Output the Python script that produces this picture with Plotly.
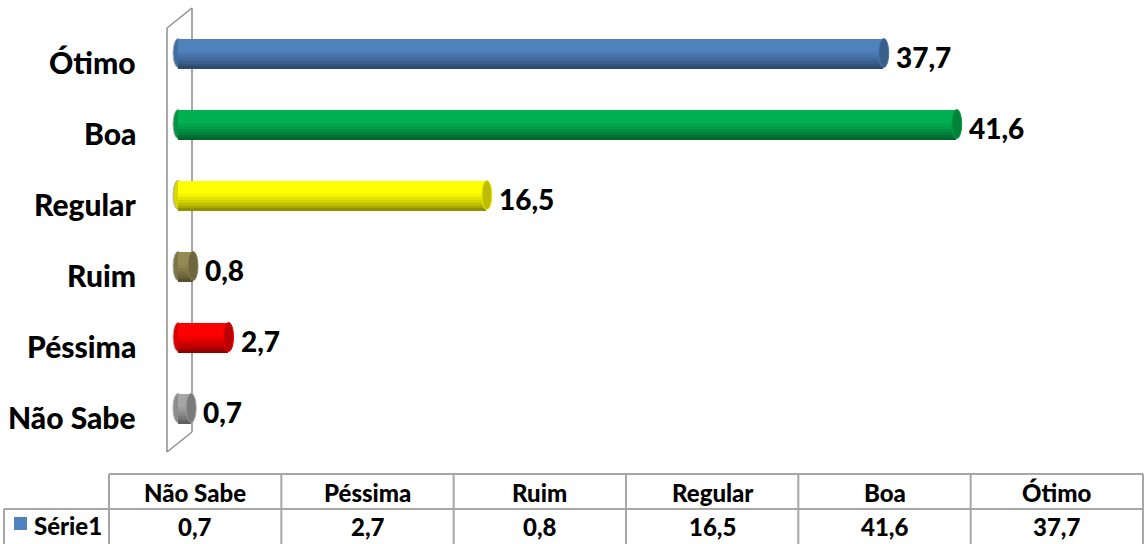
import plotly.graph_objects as go

# ---------------- data ----------------
categories = ["Não Sabe", "Péssima", "Ruim", "Regular", "Boa", "Ótimo"]
values = [0.7, 2.7, 0.8, 16.5, 41.6, 37.7]
bar_colors = ["#A6A6A6", "#FF0000", "#948A54", "#FFFF00", "#00B050", "#4F81BD"]
series_name = "Série1"
series_color = "#4F81BD"

W, H = 1145, 544
FONT = "Lato"
WEIGHT = 900
GRID = "#A6A6A6"


def px_x(p):
    return p / W


def px_y(p):
    return 1 - p / H


def shade(hexc, f):
    h = hexc.lstrip("#")
    r, g, b = int(h[0:2], 16), int(h[2:4], 16), int(h[4:6], 16)
    return "#%02X%02X%02X" % (int(r * f), int(g * f), int(b * f))


def fmt(v):
    return ("%.1f" % v).replace(".", ",")


# axis geometry (pixels)
X0_PX = 178.0          # pixel of value 0
PX_PER_UNIT = 18.72
X_LEFT = -0.35
X_RIGHT = (1143 - X0_PX) / PX_PER_UNIT
dom_x0 = (X0_PX + X_LEFT * PX_PER_UNIT) / W
dom_x1 = 1143 / W

Y_TOP_PX, Y_BOT_PX = 17.5, 443.5
BW = 0.41  # bar thickness in category units
ypos = list(range(len(categories)))

fig = go.Figure()

# cylinder body built from overlaid bands (smooth darkening towards the bottom)
bands = [
    (1.00, 1.00),
    (0.56, 0.95),
    (0.44, 0.89),
    (0.33, 0.82),
    (0.23, 0.74),
    (0.14, 0.66),
    (0.06, 0.58),
]
for frac, f in bands:
    cols = [shade(c, f) if f < 1 else c for c in bar_colors]
    fig.add_trace(go.Bar(
        y=ypos, x=values, orientation="h", base=0,
        offset=-BW / 2, width=BW * frac,
        marker=dict(color=cols, line=dict(width=0)),
        showlegend=False, hoverinfo="skip",
    ))

shapes = []
rx = 5.0 / PX_PER_UNIT
for i, (v, c) in enumerate(zip(values, bar_colors)):
    # left rounded end
    shapes.append(dict(type="circle", xref="x", yref="y", layer="below",
                       x0=-rx, x1=rx, y0=i - BW / 2, y1=i + BW / 2,
                       fillcolor=shade(c, 0.85), line=dict(width=1, color="#B0B0B0")))
    # right end cap
    shapes.append(dict(type="circle", xref="x", yref="y", layer="above",
                       x0=v - rx, x1=v + rx, y0=i - BW / 2, y1=i + BW / 2,
                       fillcolor=shade(c, 0.74),
                       line=dict(width=1, color=shade(c, 0.92))))

# 3-D wall outline
wall = [((167, 28), (167, 452)), ((192, 8), (192, 432)),
        ((167, 28), (192, 8)), ((167, 452), (192, 432))]
for (a, b) in wall:
    shapes.append(dict(type="line", xref="paper", yref="paper", layer="below",
                       x0=px_x(a[0]), y0=px_y(a[1]), x1=px_x(b[0]), y1=px_y(b[1]),
                       line=dict(color="#8C8C8C", width=1.5)))

# data table
T_TOP, T_MID, T_BOT = 474, 509, 544
T_LEFT, T_COL0, T_RIGHT = 4, 109, 1143
ncol = len(categories)
col_w = (T_RIGHT - T_COL0) / ncol
tl = dict(color=GRID, width=2)
shapes.append(dict(type="line", xref="paper", yref="paper",
                   x0=px_x(T_COL0), x1=px_x(T_RIGHT), y0=px_y(T_TOP), y1=px_y(T_TOP), line=tl))
shapes.append(dict(type="line", xref="paper", yref="paper",
                   x0=px_x(T_LEFT), x1=px_x(T_RIGHT), y0=px_y(T_MID), y1=px_y(T_MID), line=tl))
shapes.append(dict(type="line", xref="paper", yref="paper",
                   x0=px_x(T_LEFT), x1=px_x(T_LEFT), y0=px_y(T_MID), y1=px_y(T_BOT), line=tl))
for k in range(ncol + 1):
    xx = T_COL0 + k * col_w
    shapes.append(dict(type="line", xref="paper", yref="paper",
                       x0=px_x(xx), x1=px_x(xx), y0=px_y(T_TOP), y1=px_y(T_BOT), line=tl))
# legend key
shapes.append(dict(type="rect", xref="paper", yref="paper",
                   x0=px_x(14), x1=px_x(27), y0=px_y(517), y1=px_y(530),
                   fillcolor=series_color, line=dict(width=0)))


def tfont(size):
    return dict(family=FONT, size=size, color="#000000", weight=WEIGHT)


annotations = []
for i, (cat, v) in enumerate(zip(categories, values)):
    annotations.append(dict(xref="paper", yref="y", x=px_x(138), y=i,
                            xanchor="right", yanchor="middle", yshift=-9,
                            text=cat, showarrow=False, font=tfont(30)))
    annotations.append(dict(xref="x", yref="y", x=v, y=i, xshift=10, yshift=-4,
                            xanchor="left", yanchor="middle",
                            text=fmt(v), showarrow=False, font=tfont(28)))
    cx = T_COL0 + (i + 0.5) * col_w
    annotations.append(dict(xref="paper", yref="paper", x=px_x(cx), y=px_y((T_TOP + T_MID) / 2 + 1),
                            xanchor="center", yanchor="middle",
                            text=cat, showarrow=False, font=tfont(24)))
    annotations.append(dict(xref="paper", yref="paper", x=px_x(cx), y=px_y(526),
                            xanchor="center", yanchor="middle",
                            text=fmt(v), showarrow=False, font=tfont(24)))
annotations.append(dict(xref="paper", yref="paper", x=px_x(32), y=px_y(525),
                        xanchor="left", yanchor="middle",
                        text=series_name, showarrow=False, font=tfont(24)))

fig.update_layout(
    width=W, height=H, autosize=False,
    margin=dict(l=0, r=0, t=0, b=0),
    paper_bgcolor="white", plot_bgcolor="rgba(0,0,0,0)",
    barmode="overlay", bargap=0,
    xaxis=dict(domain=[dom_x0, dom_x1], range=[X_LEFT, X_RIGHT],
               visible=False, fixedrange=True),
    yaxis=dict(domain=[px_y(Y_BOT_PX), px_y(Y_TOP_PX)], range=[-0.5, len(categories) - 0.5],
               visible=False, fixedrange=True),
    shapes=shapes, annotations=annotations,
    showlegend=False,
)

fig.write_html("out.html", config={"displayModeBar": False},
               post_script="document.body.style.margin='0';document.body.style.overflow='hidden';")
